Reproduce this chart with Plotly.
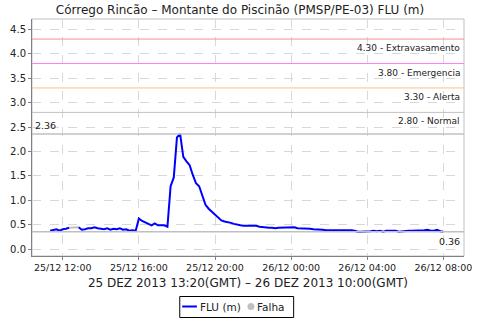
import pandas as pd
import plotly.graph_objects as go

start = "2013-12-25 11:20"
step_minutes = 10
flu = [
    0.38, 0.39, 0.41, 0.38, 0.41, 0.42, 0.44, None, None,
    0.45, 0.40, 0.41, 0.43, 0.43, 0.45, 0.43, 0.42, 0.41, 0.43,
    0.40, 0.42, 0.41, 0.43, 0.40, 0.41, 0.38, 0.39, 0.38,
    0.63, 0.58, 0.55, 0.52, 0.49, 0.53, 0.49, 0.49, 0.49, 0.46,
    1.29, 1.47, 2.29, 2.36, 1.89, 1.80, 1.72, 1.52, 1.35, 1.29,
    1.10, 0.91, 0.83, 0.77, 0.71, 0.65, 0.59, 0.57, 0.56, 0.54,
    0.52, 0.50, 0.49, 0.48, 0.48, 0.48, 0.48, 0.48, 0.46, 0.45,
    0.44, 0.44, 0.44, 0.43, 0.44, 0.44, 0.44, 0.45, 0.44, 0.45,
    0.43, 0.43, 0.43, 0.43, 0.42, 0.41, 0.41, 0.41, 0.40, 0.39,
    0.39, 0.39, 0.39, 0.39, 0.40, 0.39, 0.39, 0.39, 0.38, 0.36,
    0.36, 0.36, 0.36, 0.37, 0.38, 0.37, 0.38, 0.36, 0.38, 0.38,
    0.37, 0.38, 0.36, 0.37, 0.38, 0.38, 0.38, 0.38, 0.38, 0.39,
    0.39, 0.40, 0.38, 0.38, 0.40, 0.37, 0.36,
]
gap_idx = [6, 9]          # failure interval endpoints (drawn grey)
thresholds = [4.30, 3.80, 3.30, 2.80]
threshold_names = ["Extravasamento", "Emergencia", "Alerta", "Normal"]
threshold_colors = ["#F09090", "#FF80FF", "#FFC080", "#C0C0C0"]
max_val = 2.36
min_val = 0.36
tick_times = ["2013-12-25 12:00", "2013-12-25 16:00", "2013-12-25 20:00",
              "2013-12-26 00:00", "2013-12-26 04:00", "2013-12-26 08:00"]
tick_labels = ["25/12 12:00", "25/12 16:00", "25/12 20:00",
               "26/12 00:00", "26/12 04:00", "26/12 08:00"]
y_ticks = [0.0, 0.5, 1.0, 1.5, 2.0, 2.5, 3.0, 3.5, 4.0, 4.5]
legend_names = ["FLU (m)", "Falha"]

times = pd.date_range(start, periods=len(flu), freq=f"{step_minutes}min")
FONT = "DejaVu Sans"
W, H = 480, 320
ML, MR, MT, MB = 32, 8, 19, 64
PW, PH = W - ML - MR, H - MT - MB


def px(x):
    return (x - ML) / PW


def py(y):
    return (H - MB - y) / PH


fig = go.Figure()
fig.add_trace(go.Scatter(
    x=[times[i] for i in gap_idx], y=[flu[i] for i in gap_idx],
    mode="lines", line=dict(color="#C0C0C0", width=2), showlegend=False,
    hoverinfo="skip"))
fig.add_trace(go.Scatter(
    x=times, y=flu, mode="lines", name=legend_names[0],
    line=dict(color="#0000FF", width=2), connectgaps=False, showlegend=False))

for v, name, col in zip(thresholds, threshold_names, threshold_colors):
    fig.add_shape(type="line", xref="x domain", yref="y", x0=0, x1=1, y0=v, y1=v,
                  line=dict(color=col, width=1))
    fig.add_annotation(xref="x domain", yref="y", x=0.995, y=v, yshift=-2,
                       text=f"{v:.2f} - {name}", showarrow=False,
                       xanchor="right", yanchor="top",
                       font=dict(family=FONT, size=9, color="#222222"))
for v, xa, xan, yan, ys in [(max_val, 0.003, "left", "bottom", 1),
                            (min_val, 0.995, "right", "top", -2)]:
    fig.add_shape(type="line", xref="x domain", yref="y", x0=0, x1=1, y0=v, y1=v,
                  line=dict(color="#C0C0C0", width=1.5))
    fig.add_annotation(xref="x domain", yref="y", x=xa, y=v, yshift=ys,
                       text=f"{v:.2f}", showarrow=False, xanchor=xan, yanchor=yan,
                       font=dict(family=FONT, size=9.5, color="#222222"))

# legend box (drawn manually for compact JFreeChart-like look)
fig.add_shape(type="rect", xref="paper", yref="paper",
              x0=px(182.5), x1=px(298.5), y0=py(317.5), y1=py(296.5),
              line=dict(color="#000000", width=1), fillcolor="white")
fig.add_shape(type="line", xref="paper", yref="paper",
              x0=px(185), x1=px(200), y0=py(306.5), y1=py(306.5),
              line=dict(color="#0000FF", width=2))
fig.add_shape(type="circle", xref="paper", yref="paper",
              x0=px(251.5), x1=px(258.5), y0=py(310), y1=py(303),
              line=dict(color="#C0C0C0", width=0), fillcolor="#C0C0C0")
for name, xl in zip(legend_names, [202, 260]):
    fig.add_annotation(xref="paper", yref="paper", x=px(xl), y=py(306.5),
                       text=name, showarrow=False, xanchor="left", yanchor="middle",
                       borderpad=0,
                       font=dict(family=FONT, size=10.5, color="#222222"))

fig.update_layout(
    width=W, height=H,
    margin=dict(l=ML, r=MR, t=MT, b=MB),
    paper_bgcolor="white", plot_bgcolor="white",
    font=dict(family=FONT, size=10, color="#222222"),
    title=dict(text="Córrego Rincão – Montante do Piscinão (PMSP/PE-03) FLU (m)",
               x=0.5, xref="container", xanchor="center",
               y=1 - 10 / 320, yref="container", yanchor="middle",
               font=dict(family=FONT, size=12, color="#222222")),
    showlegend=False,
)
fig.update_xaxes(
    range=["2013-12-25 10:23", "2013-12-26 09:05"],
    tickvals=pd.to_datetime(tick_times), ticktext=tick_labels,
    ticks="outside", ticklen=3, tickcolor="#808080",
    tickfont=dict(family=FONT, size=9.5),
    showgrid=True, gridcolor="#D8D8D8", griddash="dash", gridwidth=1,
    showline=True, linecolor="#808080", linewidth=1, mirror=False,
    zeroline=False,
    title=dict(text="25 DEZ 2013 13:20(GMT) – 26 DEZ 2013 10:00(GMT)",
               font=dict(family=FONT, size=12), standoff=6),
)
fig.update_yaxes(
    range=[-0.137, 4.71], tickvals=y_ticks, tickformat=".1f",
    ticks="outside", ticklen=3, tickcolor="#808080",
    tickfont=dict(family=FONT, size=10),
    showgrid=True, gridcolor="#D8D8D8", griddash="dash", gridwidth=1,
    showline=True, linecolor="#808080", linewidth=1, zeroline=False,
)
fig.add_shape(type="rect", xref="paper", yref="paper", x0=0, x1=1, y0=0, y1=1,
              line=dict(color="#C0C0C0", width=1), layer="below")

fig.write_html("out.html")
